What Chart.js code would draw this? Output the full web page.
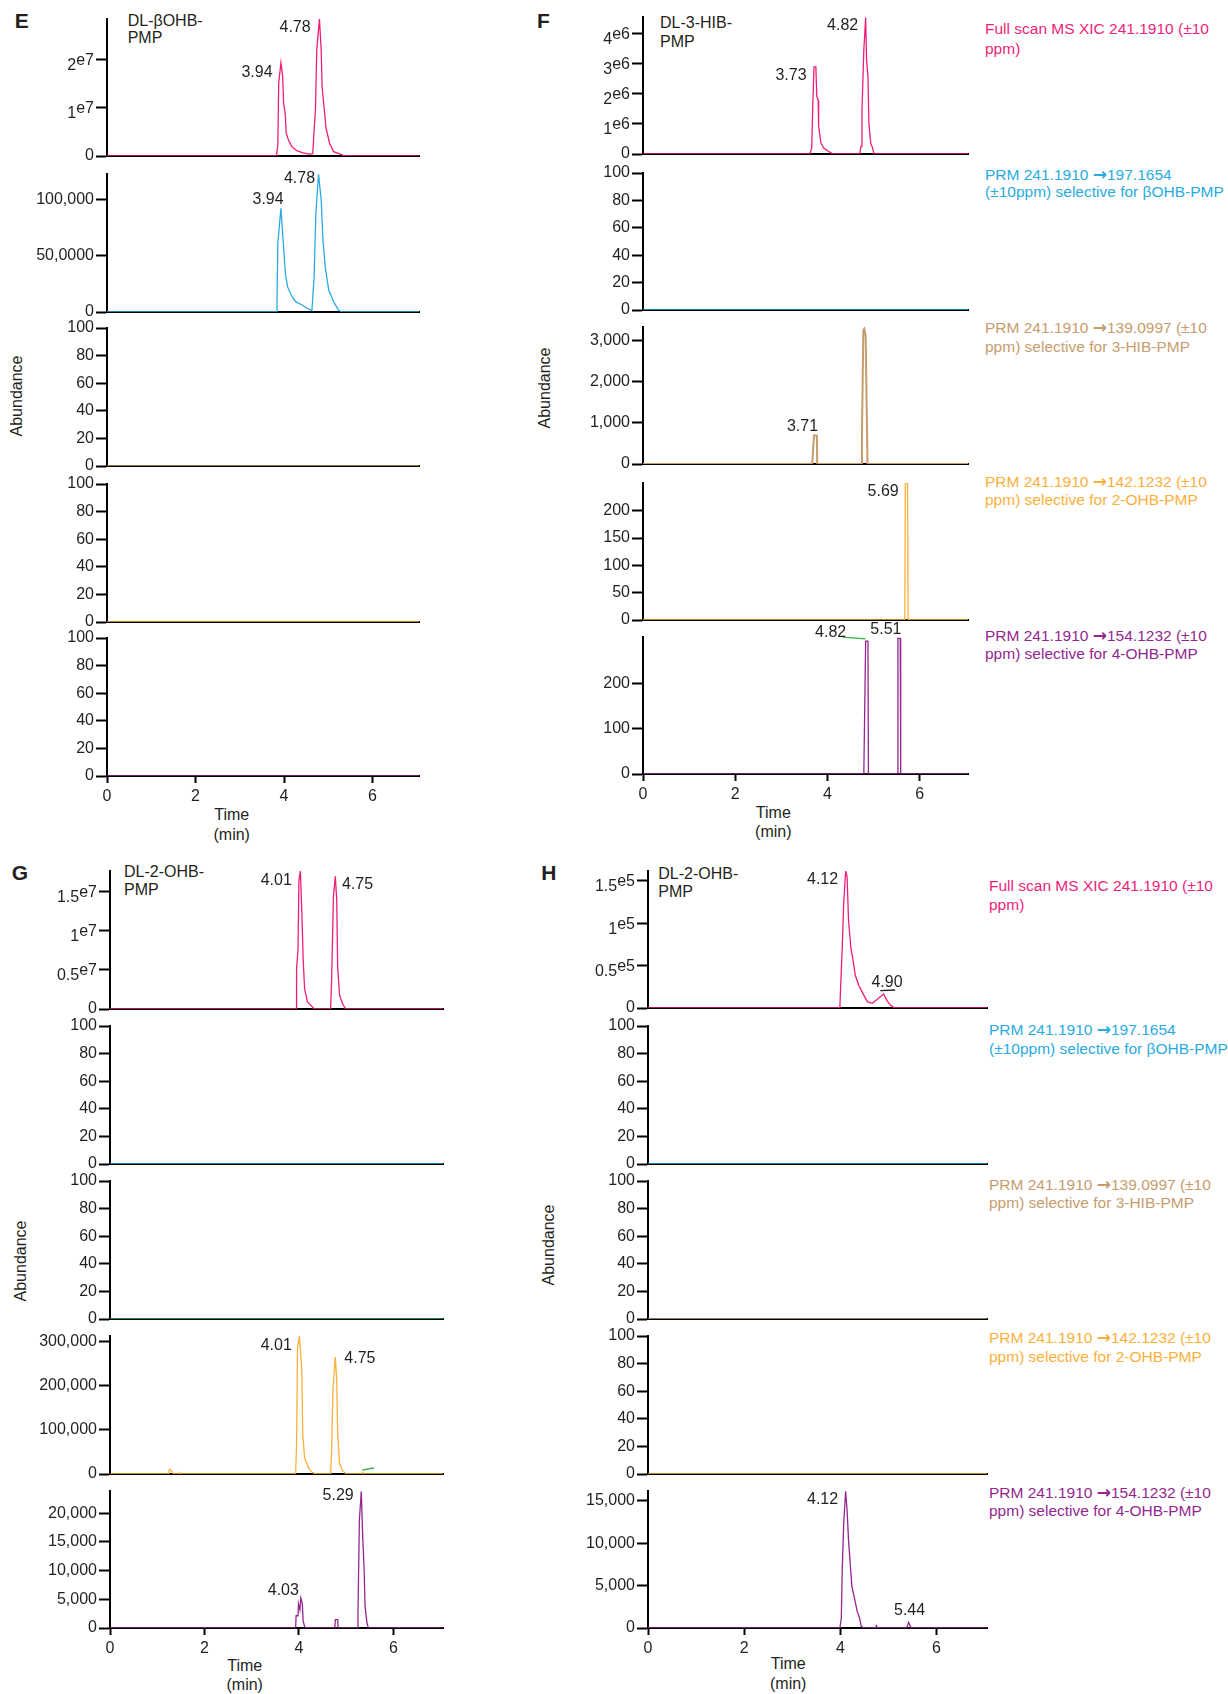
<!DOCTYPE html>
<html><head><meta charset="utf-8">
<script src="https://cdn.jsdelivr.net/npm/chart.js@4.4.1/dist/chart.umd.min.js"></script>
<style>
html,body{margin:0;padding:0;background:#fff;}
body{width:1228px;height:1694px;position:relative;overflow:hidden;font-family:"Liberation Sans",Arial,Helvetica,sans-serif;color:#231f20;}
canvas{position:absolute;}
.c{position:absolute;transform:translate(-50%,-50%);white-space:nowrap;line-height:1;}
.l{position:absolute;transform:translateY(-50%);white-space:nowrap;line-height:1;}
.r{position:absolute;transform:translate(-50%,-50%) rotate(-90deg);white-space:nowrap;line-height:1;font-size:16px;}
.p{font-weight:bold;font-size:21px;}
.n{font-size:16px;}
.tm{font-size:16px;}
.lg{font-size:15.5px;}
.a{font-family:"DejaVu Sans",sans-serif;font-size:17px;font-weight:bold;line-height:1;}
</style></head><body>

<div class="c p" style="left:21.7px;top:20px">E</div>
<div class="c p" style="left:543.3px;top:20px">F</div>
<div class="c p" style="left:20px;top:871.7px">G</div>
<div class="c p" style="left:548.8px;top:872px">H</div>

<div class="l n" style="left:127.7px;top:20.7px">DL-βOHB-</div>
<div class="l n" style="left:127.7px;top:38.3px">PMP</div>
<div class="l n" style="left:660px;top:23.3px">DL-3-HIB-</div>
<div class="l n" style="left:660px;top:41.7px">PMP</div>
<div class="l n" style="left:124px;top:872px">DL-2-OHB-</div>
<div class="l n" style="left:124px;top:890.3px">PMP</div>
<div class="l n" style="left:658.3px;top:874px">DL-2-OHB-</div>
<div class="l n" style="left:658.3px;top:892.3px">PMP</div>

<div class="r" style="left:16.7px;top:395.5px">Abundance</div>
<div class="r" style="left:545px;top:387.5px">Abundance</div>
<div class="r" style="left:20.7px;top:1260.8px">Abundance</div>
<div class="r" style="left:548.7px;top:1245.4px">Abundance</div>

<div class="c tm" style="left:231.7px;top:815px">Time</div>
<div class="c tm" style="left:231.7px;top:835px">(min)</div>
<div class="c tm" style="left:773.3px;top:812.7px">Time</div>
<div class="c tm" style="left:773.3px;top:831.7px">(min)</div>
<div class="c tm" style="left:244.7px;top:1665.7px">Time</div>
<div class="c tm" style="left:244.7px;top:1685px">(min)</div>
<div class="c tm" style="left:788.2px;top:1664px">Time</div>
<div class="c tm" style="left:788.2px;top:1684px">(min)</div>

<div class="l lg" style="left:985px;top:29px;color:#ED1E79">Full scan MS XIC 241.1910 (±10</div>
<div class="l lg" style="left:985px;top:48.6px;color:#ED1E79">ppm)</div>
<div class="l lg" style="left:985px;top:174px;color:#29ABE2">PRM 241.1910 <span class="a">→</span>197.1654</div>
<div class="l lg" style="left:985px;top:192px;color:#29ABE2">(±10ppm) selective for βOHB-PMP</div>
<div class="l lg" style="left:985px;top:327px;color:#C69C6D">PRM 241.1910 <span class="a">→</span>139.0997 (±10</div>
<div class="l lg" style="left:985px;top:346.8px;color:#C69C6D">ppm) selective for 3-HIB-PMP</div>
<div class="l lg" style="left:985px;top:481px;color:#FBB03B">PRM 241.1910 <span class="a">→</span>142.1232 (±10</div>
<div class="l lg" style="left:985px;top:500px;color:#FBB03B">ppm) selective for 2-OHB-PMP</div>
<div class="l lg" style="left:985px;top:635px;color:#93278F">PRM 241.1910 <span class="a">→</span>154.1232 (±10</div>
<div class="l lg" style="left:985px;top:654px;color:#93278F">ppm) selective for 4-OHB-PMP</div>

<div class="l lg" style="left:989px;top:886px;color:#ED1E79">Full scan MS XIC 241.1910 (±10</div>
<div class="l lg" style="left:989px;top:905px;color:#ED1E79">ppm)</div>
<div class="l lg" style="left:989px;top:1029px;color:#29ABE2">PRM 241.1910 <span class="a">→</span>197.1654</div>
<div class="l lg" style="left:989px;top:1049px;color:#29ABE2">(±10ppm) selective for βOHB-PMP</div>
<div class="l lg" style="left:989px;top:1184px;color:#C69C6D">PRM 241.1910 <span class="a">→</span>139.0997 (±10</div>
<div class="l lg" style="left:989px;top:1203px;color:#C69C6D">ppm) selective for 3-HIB-PMP</div>
<div class="l lg" style="left:989px;top:1337px;color:#FBB03B">PRM 241.1910 <span class="a">→</span>142.1232 (±10</div>
<div class="l lg" style="left:989px;top:1356.6px;color:#FBB03B">ppm) selective for 2-OHB-PMP</div>
<div class="l lg" style="left:989px;top:1491.6px;color:#93278F">PRM 241.1910 <span class="a">→</span>154.1232 (±10</div>
<div class="l lg" style="left:989px;top:1511px;color:#93278F">ppm) selective for 4-OHB-PMP</div>

<script>
// ---------------- DATA ----------------
const X_MAX = 7.05;
const X_TICKS = [0, 2, 4, 6];
const X_LABELS = ['0', '2', '4', '6'];

const PCT_TICKS = [0, 20, 40, 60, 80, 100];
const PCT_LABELS = ['0', '20', '40', '60', '80', '100'];
const FLAT = [[0, 0], [7.05, 0]];

// Panel E : DL-βOHB-PMP
const E1_yMax = 2.84e7;
const E1_yTicks = [0, 1e7, 2e7];
const E1_yLabels = ['0', '1e7', '2e7'];
const E1_pink = [[0,0],[3.83,0],[3.86,0.23e7],[3.88,1.51e7],[3.93,1.93e7],[3.97,1.65e7],[3.99,1.10e7],[4.03,0.85e7],[4.05,0.48e7],[4.10,0.33e7],[4.18,0.19e7],[4.29,0.11e7],[4.41,0.07e7],[4.56,0.04e7],[4.65,0.05e7],[4.68,0.54e7],[4.71,0.96e7],[4.74,2.2e7],[4.80,2.84e7],[4.84,2.2e7],[4.86,1.44e7],[4.91,0.96e7],[4.95,0.58e7],[5.03,0.26e7],[5.12,0.09e7],[5.27,0.04e7],[5.38,0],[7.05,0]];
const E1_peaks = [['3.94',3.39,1.735e7],['4.78',4.25,2.67e7]];

const E2_yMax = 123200;
const E2_yTicks = [0, 50000, 100000];
const E2_yLabels = ['0', '50,0000', '100,000'];
const E2_blue = [[0,0],[3.83,0],[3.84,7100],[3.86,61300],[3.93,92600],[3.99,58300],[4.03,34500],[4.08,22600],[4.16,15200],[4.26,9200],[4.41,6250],[4.52,3300],[4.63,1200],[4.68,31500],[4.72,88100],[4.78,123000],[4.84,100000],[4.88,64300],[4.93,40500],[5.01,19600],[5.12,9200],[5.23,1800],[5.31,0],[7.05,0]];
const E2_peaks = [['3.94',3.64,100600],['4.78',4.35,118750]];

// Panel F : DL-3-HIB-PMP
const F1_yMax = 4.54e6;
const F1_yTicks = [0, 1e6, 2e6, 3e6, 4e6];
const F1_yLabels = ['0', '1e6', '2e6', '3e6', '4e6'];
const F1_pink = [[0,0],[3.62,0],[3.66,0.2e6],[3.68,1.46e6],[3.71,2.89e6],[3.75,2.89e6],[3.77,1.9e6],[3.80,1.79e6],[3.81,0.91e6],[3.86,0.36e6],[3.92,0.2e6],[4.02,0.09e6],[4.10,0.02e6],[4.12,0],[4.70,0],[4.73,0.25e6],[4.75,1.46e6],[4.79,3.44e6],[4.83,4.52e6],[4.85,3.11e6],[4.88,2.56e6],[4.90,1.02e6],[4.94,0.36e6],[4.98,0.2e6],[5.01,0],[7.05,0]];
const F1_peaks = [['3.73',3.21,2.59e6],['4.82',4.33,4.24e6]];

const F3_yMax = 3330;
const F3_yTicks = [0, 1000, 2000, 3000];
const F3_yLabels = ['0', '1,000', '2,000', '3,000'];
const F3_tan = [[0,0],[3.67,0],[3.71,690],[3.77,690],[3.78,0],[4.74,0],[4.75,750],[4.78,3250],[4.80,3290],[4.83,3100],[4.87,0],[7.05,0]];
const F3_peaks = [['3.71',3.46,910]];

const F4_yMax = 250.7;
const F4_yTicks = [0, 50, 100, 150, 200];
const F4_yLabels = ['0', '50', '100', '150', '200'];
const F4_orange = [[0,0],[5.68,0],[5.69,250],[5.74,250],[5.75,0],[7.05,0]];
const F4_peaks = [['5.69',5.21,235]];

const F5_yMax = 304;
const F5_yTicks = [0, 100, 200];
const F5_yLabels = ['0', '100', '200'];
const F5_purple = [[0,0],[4.79,0],[4.83,295],[4.88,295],[4.89,0],[5.52,0],[5.53,301],[5.58,301],[5.59,0],[7.05,0]];
const F5_green = [[4.33,304],[4.83,300]];
const F5_peaks = [['4.82',4.07,313],['5.51',5.27,321]];

// Panel G : DL-2-OHB-PMP
const G1_yMax = 1.769e7;
const G1_yTicks = [0, 0.5e7, 1e7, 1.5e7];
const G1_yLabels = ['0', '0.5e7', '1e7', '1.5e7'];
const G1_pink = [[0,0],[3.94,0],[3.95,0.52e7],[3.98,0.75e7],[4.00,1.65e7],[4.03,1.769e7],[4.06,1.27e7],[4.09,0.63e7],[4.12,0.26e7],[4.18,0.09e7],[4.28,0.03e7],[4.32,0],[4.67,0],[4.69,0.33e7],[4.73,1.44e7],[4.77,1.70e7],[4.80,1.40e7],[4.82,0.54e7],[4.86,0.18e7],[4.92,0.07e7],[4.99,0],[7.05,0]];
const G1_peaks = [['4.01',3.52,1.645e7],['4.75',5.24,1.594e7]];

const G4_yMax = 312900;
const G4_yTicks = [0, 100000, 200000, 300000];
const G4_yLabels = ['0', '100,000', '200,000', '300,000'];
const G4_orange = [[0,0],[1.24,0],[1.26,10700],[1.31,6000],[1.34,0],[1.47,0],[1.49,3000],[1.51,0],[3.93,0],[3.95,69700],[3.97,285600],[4.01,312000],[4.06,236400],[4.08,92400],[4.12,35600],[4.21,12900],[4.28,3800],[4.37,0],[4.67,0],[4.69,47000],[4.72,190900],[4.77,265200],[4.80,213600],[4.82,92400],[4.86,24200],[4.92,7600],[5.01,0],[5.33,0],[5.35,4000],[5.37,0],[7.05,0]];
const G4_green = [[5.34,9100],[5.59,13600]];
const G4_peaks = [['4.01',3.52,291600],['4.75',5.29,261400]];

const G5_yMax = 23890;
const G5_yTicks = [0, 5000, 10000, 15000, 20000];
const G5_yLabels = ['0', '5,000', '10,000', '15,000', '20,000'];
const G5_purple = [[0,0],[3.93,0],[3.94,2140],[3.98,2140],[3.99,4230],[4.02,3190],[4.04,5230],[4.07,4360],[4.09,1160],[4.12,290],[4.14,0],[4.76,0],[4.77,1450],[4.82,1450],[4.83,0],[5.23,0],[5.25,2610],[5.28,18870],[5.32,23800],[5.35,15960],[5.38,10160],[5.40,3760],[5.44,870],[5.47,0],[7.05,0]];
const G5_peaks = [['4.03',3.67,6550],['5.29',4.83,23100]];

// Panel H : DL-2-OHB-PMP
const H1_yMax = 161800;
const H1_yTicks = [0, 0.5e5, 1e5, 1.5e5];
const H1_yLabels = ['0', '0.5e5', '1e5', '1.5e5'];
const H1_pink = [[0,0],[3.99,0],[4.00,15400],[4.04,72500],[4.07,123800],[4.11,161500],[4.14,155200],[4.17,104000],[4.22,70600],[4.27,54700],[4.31,39000],[4.38,27200],[4.45,19300],[4.56,7500],[4.66,5500],[4.75,9500],[4.83,13400],[4.90,16500],[4.97,8700],[5.04,3500],[5.13,0],[7.05,0]];
const H1_black = [[4.83,20450],[5.14,21280]];
const H1_peaks = [['4.12',3.63,151300],['4.90',4.97,29900]];

const H5_yMax = 16140;
const H5_yTicks = [0, 5000, 10000, 15000];
const H5_yLabels = ['0', '5,000', '10,000', '15,000'];
const H5_purple = [[0,0],[3.99,0],[4.02,1180],[4.04,6860],[4.07,12350],[4.11,16100],[4.14,13910],[4.17,10380],[4.21,7250],[4.24,4900],[4.30,3330],[4.35,1960],[4.40,1180],[4.43,270],[4.48,0],[4.73,0],[4.75,270],[4.77,0],[5.38,0],[5.42,660],[5.46,160],[5.48,0],[7.05,0]];
const H5_peaks = [['4.12',3.63,15090],['5.44',5.44,2070]];

// ---------------- STYLE / LAYOUT ----------------
const C = {pink:'#ED1E79', blue:'#29ABE2', tan:'#C69C6D', orange:'#FBB03B', purple:'#93278F', green:'#39B54A', black:'#231F20'};
const FF = '"Liberation Sans", Arial, Helvetica, sans-serif';
const LAYOUT = {
  E:{axisX:107, plotW:312, rows:[[19,156],[174,312],[328,466],[484,622],[638,776]]},
  F:{axisX:643, plotW:325, rows:[[17,154],[173,310],[327,464],[483,620],[637,774]]},
  G:{axisX:110, plotW:333, rows:[[871,1009],[1026,1164],[1181,1319],[1336,1474],[1491,1628]]},
  H:{axisX:648, plotW:339, rows:[[871,1008],[1026,1164],[1181,1319],[1336,1474],[1491,1628]]}
};
const YW = 90, PT = 20, PR = 8, PB = 12, XH_B = 30, XH = 1;

const SUBS = [
  {p:'E', r:0, yMax:E1_yMax, yTicks:E1_yTicks, yLabels:E1_yLabels, series:[[E1_pink,C.pink]], peaks:E1_peaks},
  {p:'E', r:1, yMax:E2_yMax, yTicks:E2_yTicks, yLabels:E2_yLabels, series:[[E2_blue,C.blue]], peaks:E2_peaks},
  {p:'E', r:2, yMax:100, yTicks:PCT_TICKS, yLabels:PCT_LABELS, series:[[FLAT,C.tan]]},
  {p:'E', r:3, yMax:100, yTicks:PCT_TICKS, yLabels:PCT_LABELS, series:[[FLAT,C.orange]]},
  {p:'E', r:4, yMax:100, yTicks:PCT_TICKS, yLabels:PCT_LABELS, series:[[FLAT,C.purple]], bottom:true},

  {p:'F', r:0, yMax:F1_yMax, yTicks:F1_yTicks, yLabels:F1_yLabels, series:[[F1_pink,C.pink]], peaks:F1_peaks},
  {p:'F', r:1, yMax:100, yTicks:PCT_TICKS, yLabels:PCT_LABELS, series:[[FLAT,C.blue]]},
  {p:'F', r:2, yMax:F3_yMax, yTicks:F3_yTicks, yLabels:F3_yLabels, series:[[F3_tan,C.tan,2]], peaks:F3_peaks},
  {p:'F', r:3, yMax:F4_yMax, yTicks:F4_yTicks, yLabels:F4_yLabels, series:[[F4_orange,C.orange]], peaks:F4_peaks},
  {p:'F', r:4, yMax:F5_yMax, yTicks:F5_yTicks, yLabels:F5_yLabels, series:[[F5_purple,C.purple],[F5_green,C.green]], peaks:F5_peaks, bottom:true},

  {p:'G', r:0, yMax:G1_yMax, yTicks:G1_yTicks, yLabels:G1_yLabels, series:[[G1_pink,C.pink]], peaks:G1_peaks},
  {p:'G', r:1, yMax:100, yTicks:PCT_TICKS, yLabels:PCT_LABELS, series:[[FLAT,C.blue]]},
  {p:'G', r:2, yMax:100, yTicks:PCT_TICKS, yLabels:PCT_LABELS, series:[[FLAT,C.green]]},
  {p:'G', r:3, yMax:G4_yMax, yTicks:G4_yTicks, yLabels:G4_yLabels, series:[[G4_orange,C.orange],[G4_green,C.green]], peaks:G4_peaks},
  {p:'G', r:4, yMax:G5_yMax, yTicks:G5_yTicks, yLabels:G5_yLabels, series:[[G5_purple,C.purple]], peaks:G5_peaks, bottom:true},

  {p:'H', r:0, yMax:H1_yMax, yTicks:H1_yTicks, yLabels:H1_yLabels, series:[[H1_pink,C.pink],[H1_black,C.black]], peaks:H1_peaks},
  {p:'H', r:1, yMax:100, yTicks:PCT_TICKS, yLabels:PCT_LABELS, series:[[FLAT,C.blue]]},
  {p:'H', r:2, yMax:100, yTicks:PCT_TICKS, yLabels:PCT_LABELS, series:[[FLAT,C.tan]]},
  {p:'H', r:3, yMax:100, yTicks:PCT_TICKS, yLabels:PCT_LABELS, series:[[FLAT,C.orange]]},
  {p:'H', r:4, yMax:H5_yMax, yTicks:H5_yTicks, yLabels:H5_yLabels, series:[[H5_purple,C.purple]], peaks:H5_peaks, bottom:true}
];

const textPlugin = {
  id: 'txt',
  afterDraw(chart, args, opts) {
    const ctx = chart.ctx, xs = chart.scales.x, ys = chart.scales.y;
    ctx.save();
    ctx.fillStyle = C.black;
    ctx.textAlign = 'right';
    ctx.textBaseline = 'middle';
    const xr = ys.right - 13;
    opts.yTicks.forEach((v, i) => {
      const y = ys.getPixelForValue(v);
      const lab = opts.yLabels[i];
      const k = lab.indexOf('e');
      if (k < 0) {
        ctx.font = '16px ' + FF;
        ctx.fillText(lab, xr, y);
      } else {
        const base = lab.slice(0, k), sup = lab.slice(k);
        ctx.font = '16px ' + FF;
        const w = ctx.measureText(sup).width;
        ctx.fillText(sup, xr, y + 1);
        ctx.fillText(base, xr - w, y + 6);
      }
    });
    ctx.font = '16px ' + FF;
    ctx.textAlign = 'center';
    (opts.peaks || []).forEach(([t, x, v]) => {
      ctx.fillText(t, xs.getPixelForValue(x), ys.getPixelForValue(v));
    });
    ctx.restore();
  }
};

SUBS.forEach(s => {
  const L = LAYOUT[s.p];
  const [top, zero] = L.rows[s.r];
  const plotH = zero - top;
  const xh = s.bottom ? XH_B : XH;
  const cv = document.createElement('canvas');
  const W = YW + L.plotW + PR, H = PT + plotH + xh + PB;
  cv.width = W; cv.height = H;
  cv.style.width = W + 'px'; cv.style.height = H + 'px';
  cv.style.left = (L.axisX - YW) + 'px';
  cv.style.top = (top - PT) + 'px';
  document.body.appendChild(cv);
  new Chart(cv, {
    type: 'line',
    data: {
      datasets: s.series.map(([d, col, w]) => ({
        data: d.map(([x, y]) => ({x, y})),
        borderColor: col, borderWidth: w || 1.3,
        pointRadius: 0, tension: 0, fill: false
      }))
    },
    options: {
      responsive: false, animation: false, events: [], devicePixelRatio: 1,
      layout: {padding: {top: PT, right: PR, bottom: PB, left: 0}},
      plugins: {legend: {display: false}, tooltip: {enabled: false},
        txt: {yTicks: s.yTicks, yLabels: s.yLabels, peaks: s.peaks}},
      scales: {
        x: {
          type: 'linear', min: 0, max: X_MAX,
          afterBuildTicks: sc => { sc.ticks = X_TICKS.map(v => ({value: v})); },
          afterFit: sc => { sc.height = xh; },
          grid: {display: true, drawOnChartArea: false, drawTicks: !!s.bottom, tickLength: 7, tickWidth: 2, tickColor: '#000'},
          border: {display: true, color: '#000', width: 2},
          ticks: {display: !!s.bottom, padding: 4, autoSkip: false, maxRotation: 0,
            font: {size: 16, family: FF}, color: C.black,
            callback: (v, i) => X_LABELS[i]}
        },
        y: {
          type: 'linear', min: 0, max: s.yMax,
          afterBuildTicks: sc => { sc.ticks = s.yTicks.map(v => ({value: v})); },
          afterFit: sc => { sc.width = YW; },
          grid: {display: true, drawOnChartArea: false, drawTicks: true, tickLength: 11, tickWidth: 2, tickColor: '#000'},
          border: {display: true, color: '#000', width: 2},
          ticks: {display: false}
        }
      }
    },
    plugins: [textPlugin]
  });
});
</script>
</body></html>
